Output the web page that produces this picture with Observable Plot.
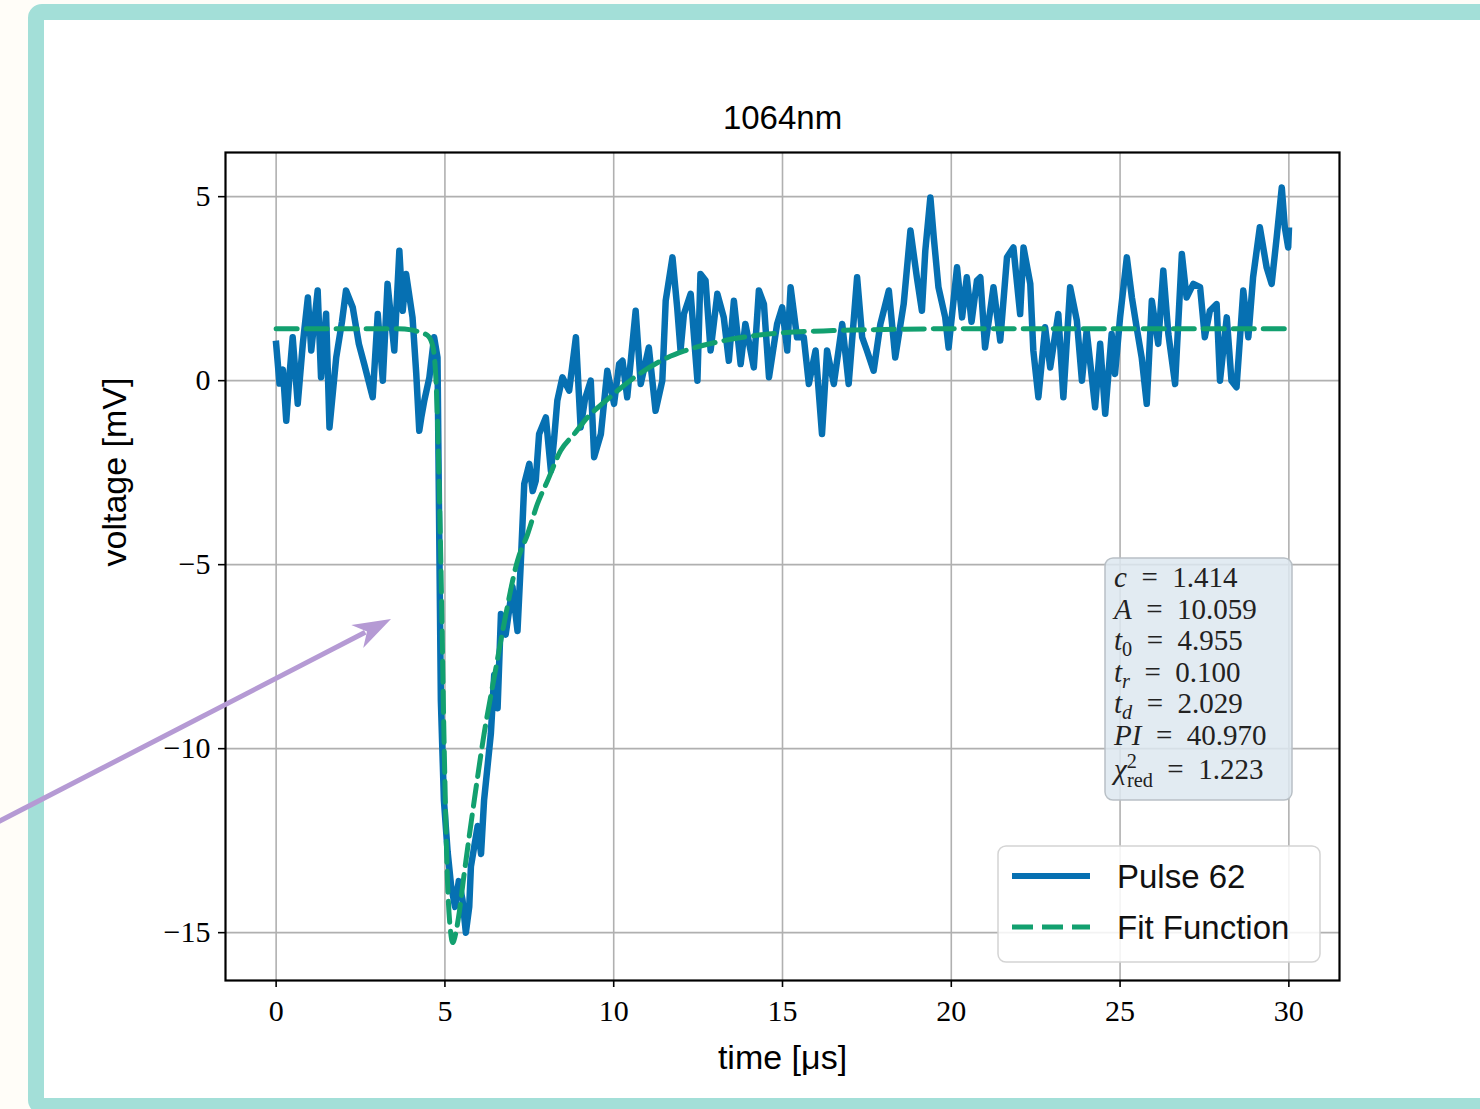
<!DOCTYPE html>
<html><head><meta charset="utf-8">
<script src="https://cdn.jsdelivr.net/npm/d3@7"></script>
<script src="https://cdn.jsdelivr.net/npm/@observablehq/plot@0.6"></script>
<style>
html,body{margin:0;padding:0;background:#fffdf8;width:1480px;height:1109px;overflow:hidden;}
#frame{position:absolute;left:28px;top:4px;width:1480px;height:1110px;box-sizing:border-box;border:16px solid #a3dfd8;border-radius:14px;background:#fff;}
#chart{position:absolute;left:0;top:0;}
</style></head><body><div id="frame"></div><div id="chart"></div>
<script>
// ---- data ----
const pulseT = [0,0.1,0.2,0.3,0.4,0.49,0.64,0.79,0.94,1.04,1.23,1.33,1.48,1.58,1.78,1.95,2.07,2.27,2.45,2.61,2.86,3.01,3.16,3.3,3.5,3.65,3.75,3.85,4.04,4.15,4.24,4.3,4.39,4.54,4.68,4.78,4.88,4.97,5.08,5.18,5.3,5.41,5.52,5.62,5.72,5.77,5.97,6.07,6.16,6.26,6.36,6.46,6.56,6.66,6.8,7.0,7.15,7.25,7.35,7.5,7.6,7.69,7.79,7.99,8.14,8.23,8.33,8.48,8.68,8.88,9.02,9.15,9.32,9.42,9.62,9.81,10.01,10.16,10.26,10.4,10.65,10.8,11.04,11.24,11.44,11.54,11.74,11.88,11.98,12.08,12.28,12.48,12.57,12.72,12.87,13.07,13.26,13.41,13.56,13.76,13.9,14.15,14.3,14.45,14.6,14.84,14.99,15.14,15.24,15.43,15.63,15.78,15.98,16.17,16.32,16.52,16.77,16.96,17.21,17.36,17.5,17.7,17.9,18.15,18.34,18.59,18.79,18.98,19.13,19.23,19.38,19.48,19.62,19.82,19.92,20.17,20.32,20.46,20.6,20.76,20.86,21.0,21.25,21.45,21.65,21.84,22.04,22.14,22.34,22.43,22.58,22.78,22.93,23.17,23.32,23.52,23.72,23.87,24.01,24.26,24.41,24.56,24.75,24.85,25.0,25.2,25.35,25.49,25.64,25.79,25.94,26.13,26.28,26.43,26.63,26.83,26.97,27.17,27.37,27.51,27.66,27.86,27.96,28.16,28.3,28.45,28.65,28.8,28.94,29.14,29.34,29.49,29.64,29.79,29.88,29.98,30.0];
const pulseV = [1.0,-0.08,0.3,-1.09,0.2,1.18,-0.63,1.0,2.26,0.82,2.45,0.09,1.82,-1.27,0.63,1.6,2.45,1.99,1.0,0.45,-0.45,1.81,0,2.63,0.82,3.53,1.9,2.9,1.72,0.2,-1.36,-1.0,-0.54,0.09,1.18,0.63,-8.7,-11.4,-12.8,-13.7,-14.3,-13.6,-14.1,-15.0,-14.3,-13.2,-12.1,-12.86,-11.4,-10.5,-9.6,-8.0,-8.9,-6.34,-6.9,-5.6,-6.8,-4.9,-2.8,-2.26,-3.0,-2.72,-1.45,-1.0,-2.45,-1.63,-0.54,0.09,-0.27,1.18,-1.27,-0.5,0,-2.08,-1.45,0.27,-0.63,0.45,0.54,-0.45,1.9,-0.09,0.9,-0.82,0,2.17,3.35,1.99,0.82,1.81,2.36,0,2.9,2.72,0.82,2.36,1.72,0.54,2.17,0.45,1.54,0.36,2.45,2.08,0.09,1.54,1.99,0.82,2.54,1.18,1.18,-0.09,0.82,-1.45,0.82,-0.09,1.54,-0.09,2.81,1.18,0.82,0.27,1.54,2.45,0.63,2.08,4.08,2.81,1.9,3.53,4.98,3.9,2.54,1.72,0.9,3.08,1.72,2.81,1.6,2.72,2.81,0.9,2.54,1.09,3.35,3.62,1.81,3.62,2.63,0.82,-0.45,1.45,0.36,1.81,-0.45,2.54,1.63,0,1.36,-0.72,1.0,-0.9,1.27,0.18,1.72,3.35,2.26,1.45,0.63,-0.63,2.17,1.0,2.99,1.27,-0.09,3.44,2.26,2.63,2.54,1.18,1.9,2.08,0,1.72,0,-0.18,2.45,1.18,2.81,4.17,3.08,2.63,3.9,5.25,4.17,3.62,4.08];
const fitT = [0,1,2,3,3.6,4.0,4.3,4.5,4.65,4.75,4.88,4.98,5.08,5.16,5.23,5.3,5.4,5.57,5.87,6.16,6.46,6.75,7.15,7.45,7.74,8.04,8.43,8.83,9.22,9.7,10.6,11.6,12.07,13.5,15,16.5,18,20,25,30];
const fitV = [1.414,1.414,1.414,1.414,1.41,1.38,1.3,1.22,0.9,-0.3,-4.97,-10.05,-13.7,-14.9,-15.27,-15.1,-14.6,-13.4,-11.4,-9.6,-8.06,-6.61,-4.89,-4.17,-3.35,-2.72,-1.9,-1.45,-1.0,-0.6,0.08,0.63,0.8,1.13,1.3,1.36,1.39,1.41,1.414,1.414];
const xTicks = [0,5,10,15,20,25,30];
const yTicks = [-15,-10,-5,0,5];
const seriesNames = ["Pulse 62","Fit Function"];
const EQ = "\u2002=\u2002";
const paramLines = [
  [["c",1],[EQ + "1.414",0]],
  [["A",1],[EQ + "10.059",0]],
  [["t",1],["0",0,"sub"],[EQ + "4.955",0]],
  [["t",1],["r",1,"sub"],[EQ + "0.100",0]],
  [["t",1],["d",1,"sub"],[EQ + "2.029",0]],
  [["PI",1],[EQ + "40.970",0]],
  [["χ",1],["2",0,"sup"],["red",0,"subafter"],[EQ + "1.223",0]]
];

const pulse = pulseT.map((t,i)=>({t, v: pulseV[i]}));
const fit = fitT.map((t,i)=>({t, v: fitV[i]}));
const BLUE = "#0670b2", GREEN = "#12a06f";
const serif = "'Liberation Serif','DejaVu Serif',serif";
const sans = "'Liberation Sans','DejaVu Sans',sans-serif";

const plot = Plot.plot({
  width: 1480, height: 1109,
  marginLeft: 225, marginRight: 141, marginTop: 152, marginBottom: 129,
  x: {domain: [-1.5, 31.5]},
  y: {domain: [-16.3, 6.2]},
  style: {background: "transparent", overflow: "visible", color: "black"},
  marks: [
    Plot.gridX(xTicks, {stroke: "#b0b0b0", strokeOpacity: 1, strokeWidth: 1.6}),
    Plot.gridY(yTicks, {stroke: "#b0b0b0", strokeOpacity: 1, strokeWidth: 1.6}),
    Plot.line(pulse, {x: "t", y: "v", stroke: BLUE, strokeWidth: 6.5, strokeLinejoin: "round", strokeLinecap: "square"}),
    Plot.line(fit, {x: "t", y: "v", stroke: GREEN, strokeWidth: 5, strokeDasharray: "21,9", curve: "monotone-x"}),
    Plot.frame({stroke: "black", strokeWidth: 2.2}),
    Plot.axisX(xTicks, {tickSize: 7, tickPadding: 12, fontSize: 30, fontFamily: serif, label: null, strokeWidth: 1.6, tickFormat: d => String(d)}),
    Plot.axisY(yTicks, {tickSize: 7, tickPadding: 8, fontSize: 30, fontFamily: serif, label: null, strokeWidth: 1.6, tickFormat: d => (d < 0 ? "\u2212" + Math.abs(d) : String(d))}),
    Plot.text(["1064nm"], {frameAnchor: "top", lineAnchor: "middle", dy: -34, fontSize: 33, fontFamily: sans, fill: "black"}),
    Plot.text(["time [μs]"], {frameAnchor: "bottom", lineAnchor: "middle", dy: 78, fontSize: 34, fontFamily: sans, fill: "black"}),
    Plot.text(["voltage [mV]"], {frameAnchor: "left", lineAnchor: "middle", dx: -110, rotate: -90, fontSize: 34, fontFamily: sans, fill: "black"})
  ]
});

const svg = d3.select(plot);
// parameter box
const gb = svg.append("g").attr("text-anchor", "start");
gb.append("rect").attr("x", 1105).attr("y", 558).attr("width", 187).attr("height", 242).attr("rx", 8)
  .attr("fill", "#dde7f0").attr("fill-opacity", 0.85).attr("stroke", "#b9c0c6").attr("stroke-width", 1.5);
const fsz = 29;
paramLines.forEach((segs, i) => {
  const txt = gb.append("text").attr("x", 1114).attr("y", 587 + i * 31.5 + (i === 6 ? 3 : 0))
    .attr("text-anchor", "start").attr("font-family", serif).attr("font-size", fsz).attr("fill", "#222").style("white-space", "pre");
  let shifted = 0;
  segs.forEach(([s, it, kind]) => {
    const ts = txt.append("tspan").text(s);
    if (it) ts.attr("font-style", "italic");
    let dy = 0;
    if (kind === "sub") { ts.attr("font-size", fsz * 0.7); dy = 6 - shifted; shifted = 6; }
    else if (kind === "sup") { ts.attr("font-size", fsz * 0.7); dy = -11 - shifted; shifted = -11; }
    else if (kind === "subafter") { ts.attr("font-size", fsz * 0.7).attr("dx", -10); dy = 8 - shifted; shifted = 8; }
    else { dy = -shifted; shifted = 0; }
    if (dy) ts.attr("dy", dy);
  });
});
// legend
const gl = svg.append("g").attr("text-anchor", "start");
gl.append("rect").attr("x", 998).attr("y", 846).attr("width", 322).attr("height", 116).attr("rx", 8)
  .attr("fill", "#fff").attr("fill-opacity", 0.85).attr("stroke", "#d4d4d4").attr("stroke-width", 1.5);
[[BLUE, null, 876], [GREEN, "21,9", 927]].forEach(([c, dash, y], i) => {
  const ln = gl.append("line").attr("x1", 1012).attr("x2", 1090).attr("y1", y).attr("y2", y)
    .attr("stroke", c).attr("stroke-width", i ? 5 : 6);
  if (dash) ln.attr("stroke-dasharray", dash);
  gl.append("text").attr("x", 1117).attr("y", y).attr("dy", "0.36em").attr("text-anchor", "start").attr("font-family", sans)
    .attr("font-size", 33).attr("fill", "#111").text(seriesNames[i]);
});
// purple annotation arrow
const tail = [-4, 823], tip = [391, 619];
const ux = tip[0] - tail[0], uy = tip[1] - tail[1], L = Math.hypot(ux, uy);
const u = [ux / L, uy / L], n = [-u[1], u[0]];
const hl = 38, hw = 13, notch = 27;
const P = (a, b) => [tip[0] - u[0] * a + n[0] * b, tip[1] - u[1] * a + n[1] * b];
const ga = svg.append("g");
const shaftEnd = P(notch + 2, 0);
ga.append("line").attr("x1", tail[0]).attr("y1", tail[1]).attr("x2", shaftEnd[0]).attr("y2", shaftEnd[1])
  .attr("stroke", "#b59ad4").attr("stroke-width", 5);
ga.append("path").attr("d", "M" + [tip, P(hl, hw), P(notch, 0), P(hl, -hw)].map(p => p.join(",")).join("L") + "Z")
  .attr("fill", "#b59ad4");

document.getElementById("chart").appendChild(plot);
</script></body></html>
